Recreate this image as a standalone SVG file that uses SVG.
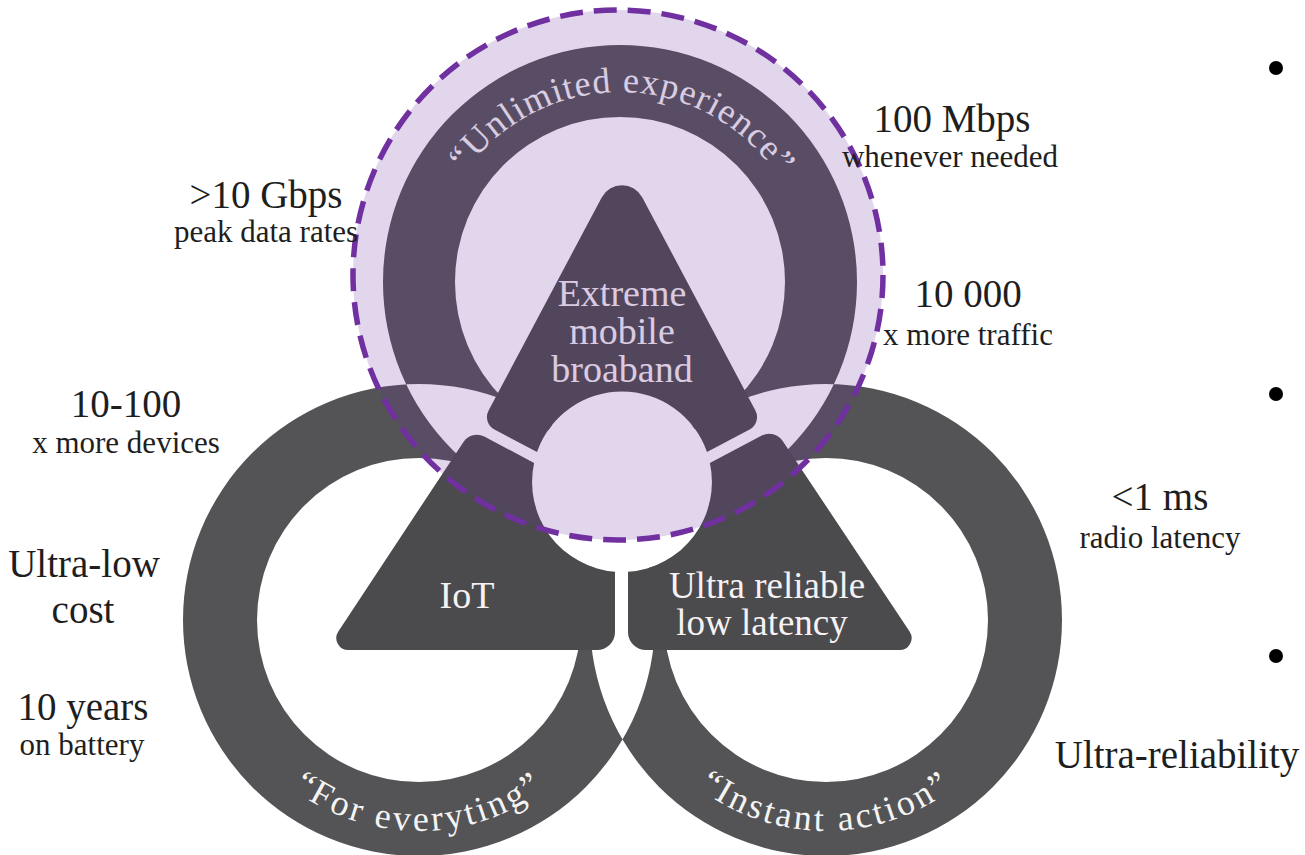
<svg xmlns="http://www.w3.org/2000/svg" width="1305" height="855" viewBox="0 0 1305 855">
  <style>
    .ring { fill: #545457; fill-rule: evenodd; }
    .piece { fill: #4b4b4d; }
    .hole { fill: #ffffff; }
    .serif { font-family: "Liberation Serif", "Times New Roman", serif; }
    .inner { font-size: 37px; fill: #f6f2f4; text-anchor: middle; }
    .arc { font-size: 36px; fill: #f4f4f4; text-anchor: middle; }
    .big { font-size: 39px; fill: #1e1e1e; text-anchor: middle; }
    .small { font-size: 31px; fill: #1e1e1e; text-anchor: middle; }
    .overlay { fill: #7030a0; fill-opacity: 0.2; stroke: #7030a0; stroke-width: 5.5; stroke-dasharray: 23 11; }
    .bullet { fill: #000000; }
  </style>
  <defs>
    <!-- baselines for the curved ring captions -->
    <path id="arcTop" d="M 430 282 A 190 190 0 0 1 810 282"/>
    <path id="arcLeft" d="M 208 620 A 211 211 0 0 0 630 620"/>
    <path id="arcRight" d="M 615 620 A 211 211 0 0 0 1037 620"/>
  </defs>

  <rect x="0" y="0" width="1305" height="855" fill="#ffffff"/>

  <!-- three overlapping rings; even-odd leaves the overlaps open -->
  <g id="rings">
    <path class="ring" d="
      M 383 282 A 237 237 0 1 0 857 282 A 237 237 0 1 0 383 282 Z
      M 455 282 A 165 165 0 1 0 785 282 A 165 165 0 1 0 455 282 Z
      M 183 620 A 236 236 0 1 0 655 620 A 236 236 0 1 0 183 620 Z
      M 257 620 A 162 162 0 1 0 581 620 A 162 162 0 1 0 257 620 Z
      M 590 620 A 236 236 0 1 0 1062 620 A 236 236 0 1 0 590 620 Z
      M 664 620 A 162 162 0 1 0 988 620 A 162 162 0 1 0 664 620 Z"/>
    <circle class="hole" cx="622" cy="482" r="90"/>
  </g>

  <!-- eMBB segment -->
  <g id="embb">
    <path class="piece" d="M 601.7 197.4 A 23 23 0 0 1 642.3 197.4 L 755.4 410.6 A 14 14 0 0 1 749.6 429.5 L 707 452 A 90 90 0 0 0 537 452 L 494.4 429.5 A 14 14 0 0 1 488.6 410.6 Z"/>
    <text class="serif inner" x="622" y="306" style="font-size:38px">Extreme</text>
    <text class="serif inner" x="622" y="344" style="font-size:38px">mobile</text>
    <text class="serif inner" x="622" y="382" style="font-size:38px">broaband</text>
  </g>

  <!-- IoT segment -->
  <g id="iot">
    <path class="piece" d="M 484.3 436.6 L 534.1 462.9 A 90 90 0 0 0 615 571.7 L 615 632 A 18 18 0 0 1 597 650 L 348.3 650 A 12 12 0 0 1 338.3 631.4 L 463.5 441.9 A 16 16 0 0 1 484.3 436.6 Z"/>
    <text class="serif inner" x="467" y="608" style="font-size:38px">IoT</text>
  </g>

  <!-- URLLC segment -->
  <g id="urllc">
    <path class="piece" d="M 761.8 435.5 A 16 16 0 0 1 782.5 440.8 L 909.6 631.4 A 12 12 0 0 1 899.6 650 L 646 650 A 18 18 0 0 1 628 632 L 628 571.8 A 90 90 0 0 0 709.9 462.9 Z"/>
    <text class="serif inner" x="767" y="598">Ultra reliable</text>
    <text class="serif inner" x="762" y="635">low latency</text>
  </g>

  <!-- ring captions -->
  <g id="ring-captions">
    <text class="serif arc" style="letter-spacing:1.1px"><textPath href="#arcTop" startOffset="50.5%">“Unlimited experience”</textPath></text>
    <text class="serif arc" style="letter-spacing:3px"><textPath href="#arcLeft" startOffset="50%">“For everyting”</textPath></text>
    <text class="serif arc" style="letter-spacing:3px"><textPath href="#arcRight" startOffset="50%">“Instant action”</textPath></text>
  </g>

  <!-- highlighted broadband circle -->
  <g id="highlight">
    <circle class="overlay" cx="618" cy="275" r="265"/>
  </g>

  <!-- KPI labels -->
  <g id="labels">
    <text class="serif big" x="266" y="208">&gt;10 Gbps</text>
    <text class="serif small" x="266" y="242">peak data rates</text>
    <text class="serif big" x="952" y="132">100 Mbps</text>
    <text class="serif small" x="950" y="167">whenever needed</text>
    <text class="serif big" x="968" y="307">10 000</text>
    <text class="serif small" x="968" y="345">x more traffic</text>
    <text class="serif big" x="126" y="417">10-100</text>
    <text class="serif small" x="126" y="453">x more devices</text>
    <text class="serif big" x="84" y="577">Ultra-low</text>
    <text class="serif big" x="83" y="623">cost</text>
    <text class="serif big" x="83" y="720">10 years</text>
    <text class="serif small" x="82" y="755">on battery</text>
    <text class="serif big" x="1160" y="510">&lt;1 ms</text>
    <text class="serif small" x="1160" y="548">radio latency</text>
    <text class="serif big" x="1177" y="768">Ultra-reliability</text>
  </g>

  <g id="bullets">
    <circle class="bullet" cx="1276" cy="68" r="7"/>
    <circle class="bullet" cx="1276" cy="394" r="7"/>
    <circle class="bullet" cx="1276" cy="656" r="7"/>
  </g>
</svg>
